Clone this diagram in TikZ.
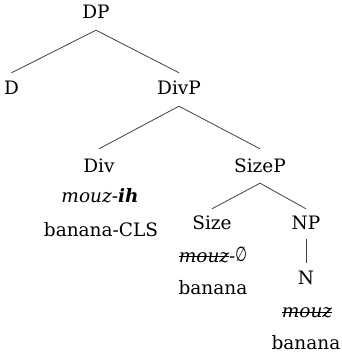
\documentclass[tikz,border=0pt]{standalone}
\usepackage{fontspec}
\setmainfont{DejaVu Serif}
\newfontfamily\djs{DejaVu Sans}
\newcommand\strk[1]{\setbox0\hbox{#1}\rlap{\raisebox{0.27em}{\rule{\wd0}{0.06em}}}\box0}
\newcommand\nullset{\scalebox{0.72}[1.1]{\upshape\djs ∅}}
\begin{document}
\begin{tikzpicture}[x=1pt,y=1pt,
  lab/.style={inner sep=0pt, anchor=base, text height=13pt, text depth=0pt, font=\fontsize{18.5}{22}\selectfont},
  txt/.style={inner sep=0pt, anchor=base, font=\fontsize{18.5}{22}\selectfont},
  branch/.style={draw=black!75, line width=0.8pt}]
\useasboundingbox (0,0) rectangle (342,357);
\node[lab] (DP) at (96,338) {DP};
\node[lab] (D) at (11.5,262) {D};
\node[lab] (DivP) at (179,262) {DivP};
\node[lab] (Div) at (99,184) {Div};
\node[lab] (SizeP) at (260,184) {SizeP};
\node[txt] (divw) at (100,154) {\itshape mouz-\textbf{ih}};
\node[txt] (divg) at (101,121) {banana-CLS};
\node[lab] (Size) at (212,127) {Size};
\node[lab] (NP) at (306,127) {NP};
\node[txt] (sizew) at (213,95) {\itshape\strk{mouz}-\nullset};
\node[txt] (sizeg) at (213,63) {banana};
\node[lab] (N) at (306,72) {N};
\node[txt] (nw) at (307,39) {\itshape\strk{mouz}};
\node[txt] (ng) at (306,8) {banana};
\draw[branch] ([yshift=-11pt]DP.south) -- ([yshift=9pt]D.north);
\draw[branch] ([yshift=-11pt]DP.south) -- ([yshift=9pt]DivP.north);
\draw[branch] ([yshift=-11pt]DivP.south) -- ([yshift=11pt]Div.north);
\draw[branch] ([yshift=-11pt]DivP.south) -- ([yshift=11pt]SizeP.north);
\draw[branch] ([yshift=-10pt]SizeP.south) -- ([yshift=8pt]Size.north);
\draw[branch] ([yshift=-10pt]SizeP.south) -- ([yshift=8pt]NP.north);
\draw[branch] ([yshift=-9pt]NP.south) -- ([yshift=9pt]N.north);
\end{tikzpicture}
\end{document}
